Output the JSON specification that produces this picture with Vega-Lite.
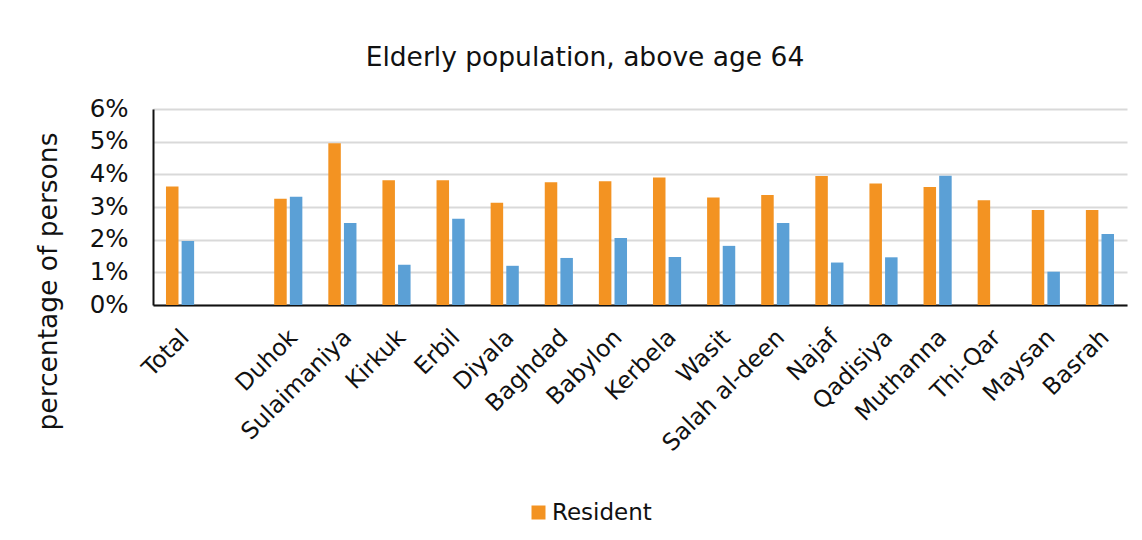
{
  "$schema": "https://vega.github.io/schema/vega-lite/v6.json",
  "autosize": {"type": "none"},
  "width": 974,
  "height": 196,
  "padding": {"left": 153, "top": 109, "right": 15, "bottom": 235},
  "background": "white",
  "title": {
    "text": "Elderly population, above age 64",
    "font": "DejaVu Sans",
    "fontSize": 26.5,
    "fontWeight": "normal",
    "color": "#111111",
    "anchor": "middle",
    "dx": -55,
    "offset": 25
  },
  "data": {
    "values": [
      {"area": "Total", "group": "Resident", "pct": 3.63},
      {"area": "Total", "group": "IDP", "pct": 1.96},
      {"area": "Duhok", "group": "Resident", "pct": 3.25},
      {"area": "Duhok", "group": "IDP", "pct": 3.31},
      {"area": "Sulaimaniya", "group": "Resident", "pct": 4.95},
      {"area": "Sulaimaniya", "group": "IDP", "pct": 2.51},
      {"area": "Kirkuk", "group": "Resident", "pct": 3.82},
      {"area": "Kirkuk", "group": "IDP", "pct": 1.23},
      {"area": "Erbil", "group": "Resident", "pct": 3.82},
      {"area": "Erbil", "group": "IDP", "pct": 2.64},
      {"area": "Diyala", "group": "Resident", "pct": 3.13},
      {"area": "Diyala", "group": "IDP", "pct": 1.2},
      {"area": "Baghdad", "group": "Resident", "pct": 3.76},
      {"area": "Baghdad", "group": "IDP", "pct": 1.44},
      {"area": "Babylon", "group": "Resident", "pct": 3.79},
      {"area": "Babylon", "group": "IDP", "pct": 2.05},
      {"area": "Kerbela", "group": "Resident", "pct": 3.9},
      {"area": "Kerbela", "group": "IDP", "pct": 1.47},
      {"area": "Wasit", "group": "Resident", "pct": 3.29},
      {"area": "Wasit", "group": "IDP", "pct": 1.81},
      {"area": "Salah al-deen", "group": "Resident", "pct": 3.37},
      {"area": "Salah al-deen", "group": "IDP", "pct": 2.51},
      {"area": "Najaf", "group": "Resident", "pct": 3.95},
      {"area": "Najaf", "group": "IDP", "pct": 1.3},
      {"area": "Qadisiya", "group": "Resident", "pct": 3.72},
      {"area": "Qadisiya", "group": "IDP", "pct": 1.46},
      {"area": "Muthanna", "group": "Resident", "pct": 3.61},
      {"area": "Muthanna", "group": "IDP", "pct": 3.96},
      {"area": "Thi-Qar", "group": "Resident", "pct": 3.21},
      {"area": "Maysan", "group": "Resident", "pct": 2.91},
      {"area": "Maysan", "group": "IDP", "pct": 1.02},
      {"area": "Basrah", "group": "Resident", "pct": 2.91},
      {"area": "Basrah", "group": "IDP", "pct": 2.17}
    ]
  },
  "mark": {"type": "bar"},
  "encoding": {
    "x": {
      "field": "area",
      "type": "nominal",
      "scale": {
        "domain": ["Total", " ", "Duhok", "Sulaimaniya", "Kirkuk", "Erbil", "Diyala", "Baghdad", "Babylon", "Kerbela", "Wasit", "Salah al-deen", "Najaf", "Qadisiya", "Muthanna", "Thi-Qar", "Maysan", "Basrah"],
        "paddingInner": 0.48,
        "paddingOuter": 0.24
      },
      "axis": {
        "title": null,
        "labelAngle": -45,
        "labelAlign": "right",
        "labelBaseline": "top",
        "labelFont": "DejaVu Sans",
        "labelFontSize": 23.5,
        "labelColor": "#111111",
        "labelPadding": 20,
        "labelOffset": -3,
        "ticks": false,
        "domainColor": "#111111",
        "domainWidth": 2,
        "grid": false
      }
    },
    "xOffset": {
      "field": "group",
      "type": "nominal",
      "scale": {"domain": ["Resident", "IDP"], "paddingInner": 0.2}
    },
    "y": {
      "field": "pct",
      "type": "quantitative",
      "scale": {"domain": [0, 6], "nice": false},
      "axis": {
        "title": "percentage of persons",
        "titleFont": "DejaVu Sans",
        "titleFontSize": 26.5,
        "titleFontWeight": "normal",
        "titleColor": "#111111",
        "titlePadding": 27,
        "titleY": 172,
        "values": [0, 1, 2, 3, 4, 5, 6],
        "labelExpr": "datum.value + '%'",
        "labelFont": "DejaVu Sans",
        "labelFontSize": 24.5,
        "labelColor": "#111111",
        "labelPadding": 25,
        "ticks": false,
        "domainColor": "#111111",
        "domainWidth": 2,
        "grid": true,
        "gridColor": "#d9d9d9",
        "gridWidth": 2
      }
    },
    "color": {
      "field": "group",
      "type": "nominal",
      "scale": {"domain": ["Resident", "IDP"], "range": ["#F39322", "#5BA0D6"]},
      "legend": {
        "title": null,
        "values": ["Resident"],
        "orient": "none",
        "legendX": 374,
        "legendY": 392,
        "symbolType": "square",
        "symbolSize": 196,
        "symbolStrokeWidth": 0,
        "labelFont": "DejaVu Sans",
        "labelFontSize": 23,
        "labelColor": "#111111",
        "labelOffset": 2
      }
    }
  },
  "config": {
    "view": {"stroke": null}
  }
}
